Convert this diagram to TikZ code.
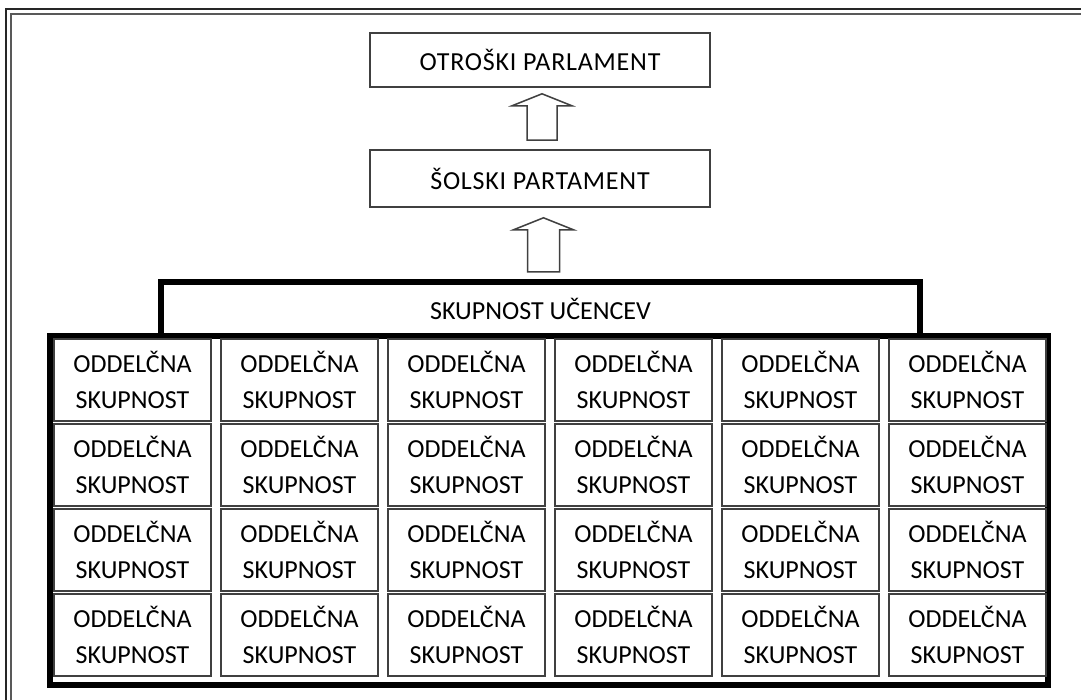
\documentclass[tikz,border=0pt]{standalone}
\usepackage{fontspec}
\setmainfont{Carlito}
\newfontfamily\titlefont[LetterSpace=3]{Carlito}
\usetikzlibrary{calc}
\tikzset{
  txt/.style={font=\fontsize{26}{36}\selectfont, text=black},
  ttxt/.style={font=\titlefont\fontsize{26}{36}\selectfont, text=black},
  titlebox/.style={draw=black!75, line width=1.6pt, fill=white, inner sep=0pt, ttxt},
  thickbox/.style={draw=black, line width=6pt, inner sep=0pt, txt},
  cellbox/.style={draw=black!75, line width=1.5pt, inner sep=0pt, align=center,
    minimum width=157pt, minimum height=82pt, txt},
  blockarr/.style={draw=black!75, line width=1.5pt, fill=white, line join=miter},
  frameouter/.style={draw=black!85, line width=1.4pt},
  frameinner/.style={draw=black!65, line width=2pt}
}
\begin{document}
\begin{tikzpicture}[x=1pt,y=-1pt]
\useasboundingbox (0,0) rectangle (1081,700);
% page frame (top and left only)
\draw[frameouter] (6,700) -- (6,9) -- (1081,9);
\draw[frameinner] (11,700) -- (11,14) -- (1081,14);
% top boxes
\node[titlebox, minimum width=340pt, minimum height=54pt] (otr) at (540,60) {OTROŠKI PARLAMENT};
\node[titlebox, minimum width=340pt, minimum height=57pt] (sol) at (540,178.5) {ŠOLSKI PARTAMENT};
% skupnost box and grid frame
\node[thickbox, minimum width=759pt, minimum height=54pt] (sku) at (540.5,309) {SKUPNOST UČENCEV};
\node[thickbox, minimum width=998pt, minimum height=349pt] (grid) at (549,510.5) {};
% cells
\foreach \c in {0,...,5}{
  \foreach \r in {0,...,3}{
    \node[cellbox] (cell-\r-\c) at ({132.5+167*\c},{380+85*\r}) {ODDELČNA\\SKUPNOST};
  }
}
% block arrows
\draw[blockarr] let \p1=($(sol.north)+(2,-9)$), \p2=($(otr.south)+(2,6)$) in
  (\x1-15pt,\y1) -- (\x1-15pt,\y2-12pt) -- (\x1-30pt,\y2-12pt) -- (\x1,\y2)
  -- (\x1+30pt,\y2-12pt) -- (\x1+15pt,\y2-12pt) -- (\x1+15pt,\y1) -- cycle;
\draw[blockarr] let \p1=($(sku.north)+(3,-7)$), \p2=($(sol.south)+(3,10)$) in
  (\x1-16pt,\y1) -- (\x1-16pt,\y2-12pt) -- (\x1-30pt,\y2-12pt) -- (\x1,\y2)
  -- (\x1+30pt,\y2-12pt) -- (\x1+16pt,\y2-12pt) -- (\x1+16pt,\y1) -- cycle;
\end{tikzpicture}
\end{document}
